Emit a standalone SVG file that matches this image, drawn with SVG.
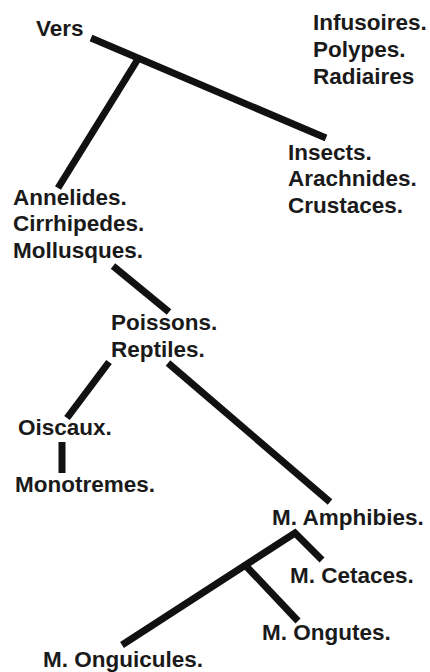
<svg xmlns="http://www.w3.org/2000/svg" width="430" height="672" viewBox="0 0 430 672">
<style>
text{font-family:"Liberation Sans",Arial,sans-serif;font-weight:bold;font-size:22.5px;fill:#1a1a1a}
.c line{stroke:#111;stroke-width:7;stroke-linecap:butt;fill:none}
.c polyline{stroke:#111;stroke-width:7;stroke-linecap:butt;stroke-linejoin:miter;fill:none}
</style>
<rect width="430" height="672" fill="#fff"/>
<g class="c" id="connectors">
<line x1="91" y1="38" x2="326" y2="138"/>
<line x1="138" y1="59" x2="58" y2="188"/>
<line x1="113" y1="266" x2="169" y2="312"/>
<line x1="109" y1="362" x2="67" y2="418"/>
<line x1="62" y1="442" x2="62" y2="473"/>
<line x1="168" y1="363" x2="330" y2="502"/>
<polyline points="122,645 295,533 322,560"/>
<line x1="246" y1="566" x2="298" y2="621"/>
</g>
<g id="vers"><text x="36" y="36">Vers</text></g>
<g id="infusoires"><text x="313" y="30">Infusoires.</text><text x="313" y="57">Polypes.</text><text x="313" y="84">Radiaires</text></g>
<g id="insects"><text x="288" y="160">Insects.</text><text x="288" y="186">Arachnides.</text><text x="288" y="213">Crustaces.</text></g>
<g id="annelides"><text x="13" y="205">Annelides.</text><text x="13" y="231">Cirrhipedes.</text><text x="13" y="258">Mollusques.</text></g>
<g id="poissons"><text x="111" y="330">Poissons.</text><text x="111" y="357">Reptiles.</text></g>
<g id="oiscaux"><text x="18" y="435">Oiscaux.</text></g>
<g id="monotremes"><text x="15" y="492">Monotremes.</text></g>
<g id="amphibies"><text x="272" y="525">M. Amphibies.</text></g>
<g id="cetaces"><text x="290" y="583">M. Cetaces.</text></g>
<g id="ongutes"><text x="262" y="640">M. Ongutes.</text></g>
<g id="onguicules"><text x="43" y="667">M. Onguicules.</text></g>
</svg>
